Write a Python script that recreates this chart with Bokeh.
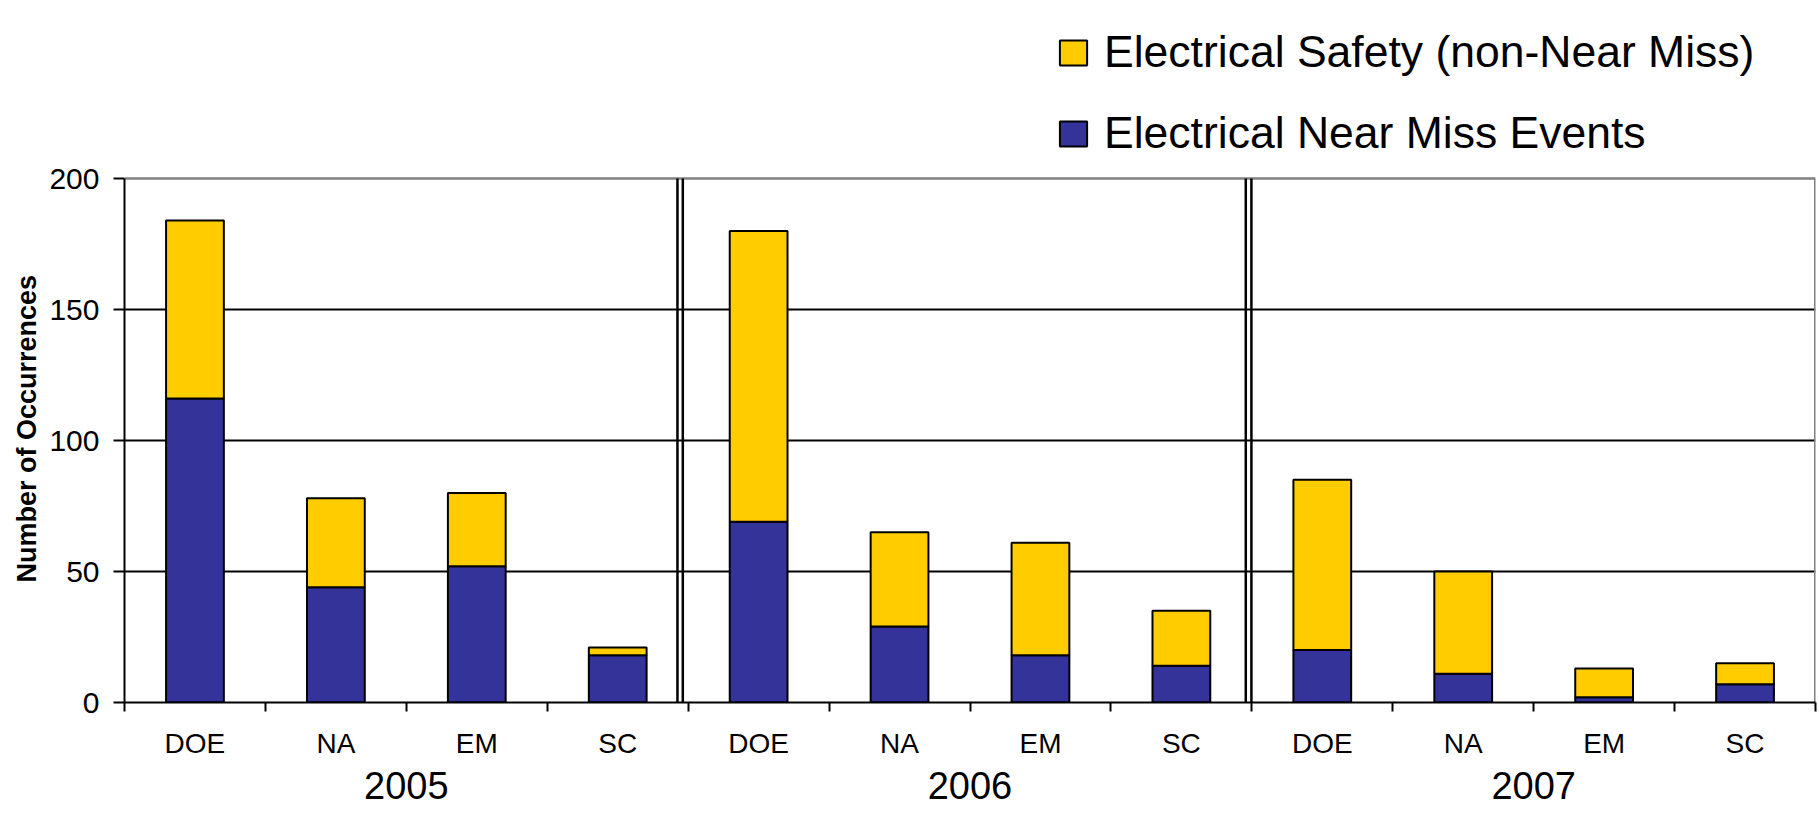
from bokeh.plotting import figure
from bokeh.models import (FixedTicker, LinearAxis, Legend, LegendItem, Range1d,
                          ColumnDataSource, Title)
from bokeh.embed import file_html
from bokeh.resources import INLINE

# ---- data ----
years = ["2005", "2006", "2007"]
orgs = ["DOE", "NA", "EM", "SC"]
near_miss = [116, 44, 52, 18, 69, 29, 18, 14, 20, 11, 2, 7]
non_near_miss = [68, 34, 28, 3, 111, 36, 43, 21, 65, 39, 11, 8]
y_ticks = [0, 50, 100, 150, 200]

FONT = "Liberation Sans"
BLUE = "#333399"
YELLOW = "#FFCC00"

# layout constants (pixels)
H = 816
FRAME_BOTTOM_PX = 702
TOP200_PX = 178
n = len(years) * len(orgs)
ymax_axis = y_ticks[-1]
# frame spans canvas top to FRAME_BOTTOM_PX; y range extended so 200 sits at TOP200_PX
y_top = ymax_axis * FRAME_BOTTOM_PX / (FRAME_BOTTOM_PX - TOP200_PX)

centers = [i + 0.5 for i in range(n)]
boundaries = list(range(n + 1))
labels = [orgs[i % len(orgs)] for i in range(n)]
totals = [a + b for a, b in zip(near_miss, non_near_miss)]

src = ColumnDataSource(dict(x=centers, nm=near_miss, tot=totals, org=labels))

p = figure(width=1819, height=H, x_range=Range1d(0, n), y_range=Range1d(0, y_top),
           output_backend="svg", toolbar_location=None, x_axis_type=None,
           min_border_left=124, min_border_right=4, min_border_top=0,
           min_border_bottom=H - FRAME_BOTTOM_PX, background_fill_color="white",
           border_fill_color="white")
p.outline_line_color = None

# y axis
ya = p.yaxis[0]
ya.ticker = FixedTicker(ticks=y_ticks)
ya.bounds = (0, ymax_axis)
ya.major_tick_out = 11
ya.major_tick_in = 0
ya.minor_tick_line_color = None
ya.axis_line_width = 2
ya.axis_line_color = "black"
ya.major_tick_line_width = 2
ya.major_tick_line_color = "black"
ya.major_label_text_font = FONT
ya.major_label_text_font_size = "30px"
ya.major_label_text_color = "black"
ya.major_label_standoff = 14

ytitle = Title(text="Number of Occurrences", align="left", offset=120,
               text_font=FONT, text_font_style="bold", text_font_size="27px",
               text_color="black", standoff=10)
p.add_layout(ytitle, "left")

p.ygrid.ticker = FixedTicker(ticks=y_ticks[1:-1])
p.ygrid.grid_line_color = "black"
p.ygrid.grid_line_width = 2

# plot-area border (top and right, grey)
p.segment(x0=[0], y0=[ymax_axis], x1=[n], y1=[ymax_axis], line_color="#808080", line_width=2.5)
p.segment(x0=[n], y0=[0], x1=[n], y1=[ymax_axis], line_color="#808080", line_width=3)

# x axes
ax1 = LinearAxis(ticker=FixedTicker(ticks=centers, minor_ticks=boundaries),
                 major_label_overrides={c: l for c, l in zip(centers, labels)})
ax1.major_tick_out = 0
ax1.major_tick_in = 0
ax1.major_tick_line_color = None
ax1.minor_tick_out = 9
ax1.minor_tick_in = 0
ax1.minor_tick_line_width = 2
ax1.minor_tick_line_color = "black"
ax1.axis_line_width = 2
ax1.axis_line_color = "black"
ax1.major_label_text_font = FONT
ax1.major_label_text_font_size = "28px"
ax1.major_label_text_color = "black"
ax1.major_label_standoff = 16
p.add_layout(ax1, "below")

year_centers = [len(orgs) * (i + 0.5) for i in range(len(years))]
ax2 = LinearAxis(ticker=FixedTicker(ticks=year_centers),
                 major_label_overrides={c: y for c, y in zip(year_centers, years)})
ax2.axis_line_color = None
ax2.major_tick_line_color = None
ax2.minor_tick_line_color = None
ax2.major_tick_out = 0
ax2.major_tick_in = 0
ax2.major_label_text_font = FONT
ax2.major_label_text_font_size = "38px"
ax2.major_label_text_color = "black"
ax2.major_label_standoff = 10
p.add_layout(ax2, "below")

# bars
r_blue = p.vbar(x="x", width=0.41, bottom=0, top="nm", source=src,
                fill_color=BLUE, line_color="black", line_width=2)
r_yel = p.vbar(x="x", width=0.41, bottom="nm", top="tot", source=src,
               fill_color=YELLOW, line_color="black", line_width=2)

# year separators (double lines)
for g in range(1, len(years)):
    b = g * len(orgs)
    for off in ((0.076, 0.038) if g == 1 else (0.043, 0.003)):
        p.segment(x0=[b - off], y0=[0], x1=[b - off], y1=[ymax_axis],
                  line_color="black", line_width=2.5)

legend = Legend(items=[LegendItem(label="Electrical Safety (non-Near Miss)", renderers=[r_yel]),
                       LegendItem(label="Electrical Near Miss Events", renderers=[r_blue])],
                location=(932, 544), glyph_width=34, glyph_height=31,
                label_text_font=FONT, label_text_font_size="44.5px",
                label_text_color="black", label_standoff=14, spacing=31,
                padding=0, margin=0, border_line_color=None,
                background_fill_alpha=0)
p.add_layout(legend)

open("out.html", "w").write(file_html(p, INLINE))
